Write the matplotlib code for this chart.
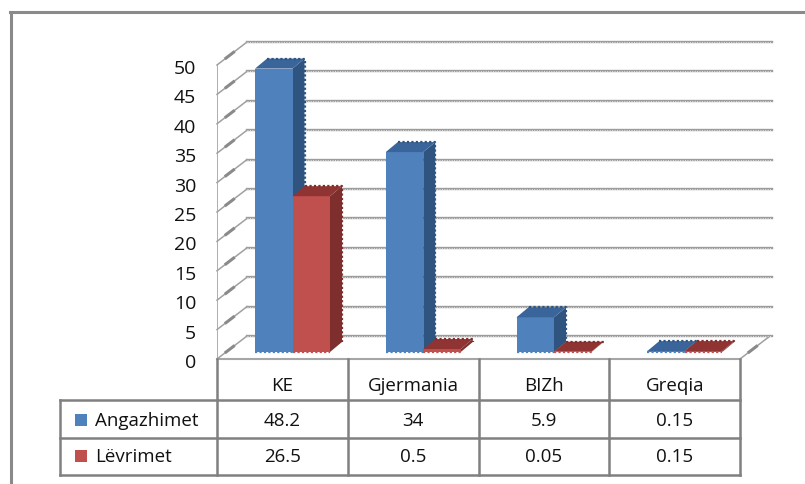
import matplotlib
matplotlib.use("Agg")
from matplotlib import pyplot as plt
from matplotlib.lines import Line2D
from matplotlib.patches import Polygon, Rectangle
from matplotlib.transforms import ScaledTranslation

categories = ["KE", "Gjermania", "BIZh", "Greqia"]
series_names = ["Angazhimet", "Lëvrimet"]
angazhimet = [48.2, 34, 5.9, 0.15]
levrimet = [26.5, 0.5, 0.05, 0.15]
table_angazhimet = ["48.2", "34", "5.9", "0.15"]
table_levrimet = ["26.5", "0.5", "0.05", "0.15"]
y_ticks = list(range(0, 55, 5))

W, H = 805, 484
BLUE = dict(front="#4f81bd", top="#3a659a", side="#2f5480")
RED = dict(front="#c0504d", top="#8f3432", side="#7e2e2c")
GRID = "#9c9c9c"
FRAME = "#8a8a8a"

# front plane of the chart in pixels
LEFT, RIGHT, ZERO, TOP = 217, 740, 359, 65
WALL_DX, WALL_DY = 30, 23


def px_rect(x0, y0, x1, y1):
    return [x0 / W, 1 - y1 / H, (x1 - x0) / W, (y1 - y0) / H]


def fig_line(fig, xs, ys, **kw):
    fig.add_artist(Line2D([x / W for x in xs], [1 - y / H for y in ys], **kw))


def fig_text(fig, x, y, s, **kw):
    fig.text(x / W, 1 - y / H, s, va="center", fontsize=13.5, color="#111111", **kw)


def draw_bar(ax, x, width, value, colors, x_per_px, y_per_px):
    # floor offset of the bars, depth of the box
    lift = 7 * y_per_px
    dx = 12 * x_per_px
    dy = 10 * y_per_px
    x0, x1 = x, x + width
    y0, y1 = lift, value + lift
    ax.bar(x0, value, width, bottom=lift, align="edge", color=colors["front"], zorder=4)
    top = [(x0, y1), (x1, y1), (x1 + dx, y1 + dy), (x0 + dx, y1 + dy)]
    side = [(x1, y0), (x1 + dx, y0 + dy), (x1 + dx, y1 + dy), (x1, y1)]
    ax.add_patch(Polygon(side, color=colors["side"], zorder=3, lw=0, clip_on=False))
    ax.add_patch(Polygon(top, color=colors["top"], zorder=4, lw=0, clip_on=False))
    ax.plot([x0 + dx, x1 + dx, x1 + dx], [y1 + dy, y1 + dy, y0 + dy], color=colors["side"],
            ls=(0, (1, 1)), lw=1.6, zorder=4, clip_on=False)
    ax.plot([x0, x1], [y0, y0], color=colors["front"], ls=(0, (1, 1)), lw=1.6, zorder=4, clip_on=False)


def main():
    plt.rcParams['font.family'] = ['Open Sans', 'DejaVu Sans']
    fig = plt.figure(figsize=(W / 100, H / 100), dpi=100)
    ax = fig.add_axes(px_rect(LEFT, TOP, RIGHT, ZERO))
    ax.set_xlim(0, len(categories))
    ax.set_ylim(0, 50)
    ax.patch.set_alpha(0)
    for s in ax.spines.values():
        s.set_visible(False)
    ax.set_xticks([])
    ax.set_yticks(y_ticks)
    ax.tick_params(axis="y", length=0, pad=15, labelsize=14, labelcolor="#111111")
    # tick labels sit a little below their level in the reference
    shift = ScaledTranslation(0, -2 / 100, fig.dpi_scale_trans)
    for label in ax.get_yticklabels():
        label.set_transform(label.get_transform() + shift)

    x_per_px = len(categories) / (RIGHT - LEFT)
    y_per_px = 50 / (ZERO - TOP)
    wall_x = WALL_DX * x_per_px
    wall_y = WALL_DY * y_per_px

    # back wall gridlines and the diagonal side ticks
    for v in y_ticks:
        xs = [wall_x, len(categories) + wall_x + 2 * x_per_px]
        ys = [v + wall_y, v + wall_y]
        ax.plot(xs, ys, color=GRID, lw=1.7, zorder=1, clip_on=False)
        ax.plot(xs, ys, color="#e6e6e6", lw=0.7, ls=(0, (1, 1.5)), zorder=1.5, clip_on=False)
        ax.plot([0, wall_x], [v, v + wall_y], color="#a0a0a0", lw=1.1, zorder=1, clip_on=False)
        ax.plot([wall_x * 0.3, wall_x * 0.55], [v + wall_y * 0.3, v + wall_y * 0.55],
                color="#8a8a8a", lw=2.2, zorder=1, clip_on=False)
    ax.plot([0, 0], [0, 50], color="#a0a0a0", lw=1.2, zorder=2)
    ax.plot([len(categories), len(categories) + wall_x], [0, wall_y], color="#a0a0a0", lw=1.1, zorder=1, clip_on=False)
    ax.plot([len(categories) + wall_x * 0.3, len(categories) + wall_x * 0.55], [wall_y * 0.3, wall_y * 0.55],
            color="#8a8a8a", lw=2.2, zorder=1, clip_on=False)

    # bars
    bar_w = 37.5 * x_per_px
    start = 38 * x_per_px
    for i in range(len(categories)):
        draw_bar(ax, i + start, bar_w, angazhimet[i], BLUE, x_per_px, y_per_px)
        draw_bar(ax, i + start + bar_w, bar_w, levrimet[i], RED, x_per_px, y_per_px)

    # outer frame, open towards the image edge
    fig_line(fig, [10.5, 10.5], [H, 12], color=FRAME, lw=2.2)
    fig_line(fig, [10, W], [12, 12], color=FRAME, lw=2.2)

    # data table
    col_x = [LEFT + i * (RIGHT - LEFT) / len(categories) for i in range(len(categories) + 1)]
    row_y = [ZERO, 400, 438, 475]
    fig_line(fig, [LEFT, RIGHT], [ZERO, ZERO], color="#a6a6a6", lw=1.5)
    for x in col_x:
        fig_line(fig, [x, x], [ZERO, row_y[-1]], color="#808080", lw=1.8)
    for y in row_y[1:]:
        fig_line(fig, [60, RIGHT], [y, y], color="#808080", lw=1.8)
    fig_line(fig, [60, 60], [row_y[1], row_y[-1]], color="#808080", lw=1.8)

    for i, name in enumerate(categories):
        cx = (col_x[i] + col_x[i + 1]) / 2
        fig_text(fig, cx, 386, name, ha="center")
        fig_text(fig, cx, 421, table_angazhimet[i], ha="center")
        fig_text(fig, cx, 457, table_levrimet[i], ha="center")

    for name, color, y in zip(series_names, [BLUE["front"], RED["front"]], [420, 456]):
        fig.add_artist(Rectangle((75 / W, 1 - (y + 6) / H), 12 / W, 12 / H, color=color, lw=0,
                                 transform=fig.transFigure))
        fig_text(fig, 95, y + 1, name, ha="left")

    fig.savefig("out.png", dpi=100)


if __name__ == "__main__":
    main()
